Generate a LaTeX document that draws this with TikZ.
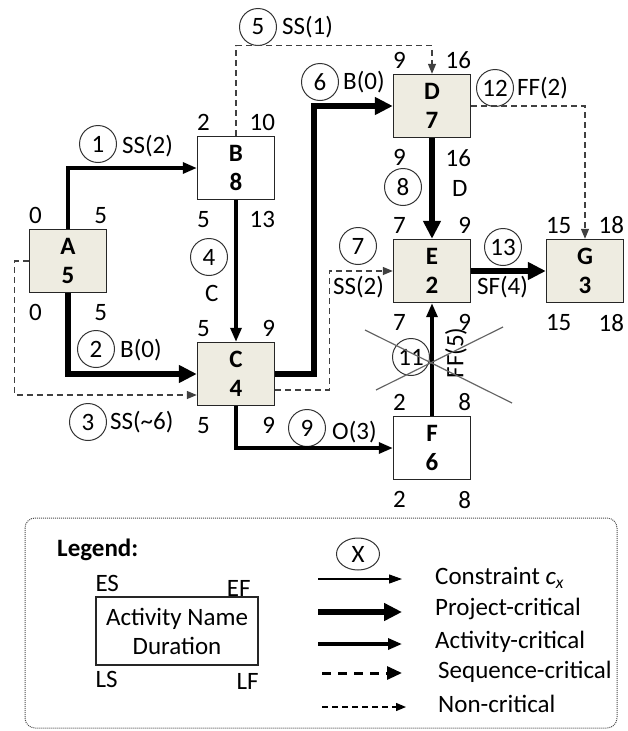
\documentclass[tikz,border=0pt]{standalone}
\usepackage{fontspec}
\setmainfont{Carlito}
\usepackage{tikz}
\usetikzlibrary{arrows.meta,positioning,shapes.geometric}
\definecolor{actfill}{HTML}{EEECE1}

\tikzset{
  activity/.style={draw=black!85, line width=1.4pt, minimum width=77pt, minimum height=63pt,
    inner sep=0pt, align=center},
  tnum/.style={inner sep=0pt},
  cnum/.style={circle, draw=black!80, line width=1pt, minimum size=37pt, inner sep=0pt},
  projcrit/.style={line width=5.5pt, -{Triangle[length=18pt,width=17pt]}},
  actcrit/.style={line width=3.2pt, -{Triangle[length=14pt,width=11pt]}},
  seqcrit/.style={line width=3pt, dash pattern=on 9pt off 7pt, -{Triangle[length=15pt,width=13pt]}},
  constr/.style={line width=1.2pt, -{Triangle[length=13pt,width=9pt]}},
  noncrit/.style={line width=1.3pt, black!75, dash pattern=on 6pt off 4pt, -{Triangle[length=10pt,width=8pt]}},
}

\begin{document}
\begin{tikzpicture}[x=1pt, y=-1pt, every node/.style={font=\fontsize{25}{29}\selectfont}]
  \useasboundingbox (0,0) rectangle (627,731);

  % Activities with ES, EF, LS, LF
  \foreach \n/\x/\y/\d/\es/\ef/\ls/\lf/\f in {A/68/261/5/0/5/0/5/actfill, B/236/168/8/2/10/5/13/white,
      C/236/374/4/5/9/5/9/actfill, D/432/106/7/9/16/9/16/actfill, E/432/271/2/7/9/7/9/actfill,
      F/432/448/6/2/8/2/8/white, G/585/271/3/15/18/15/18/actfill} {
    \node[activity, fill=\f] (\n) at (\x,\y) {\textbf{\n}\\\textbf{\d}};
    \node[tnum, anchor=south west] (\n-es) at ([yshift=5pt]\n.north west) {\es};
    \node[tnum, anchor=south east] (\n-ef) at ([yshift=5pt]\n.north east) {\ef};
    \node[tnum, anchor=north west] (\n-ls) at ([yshift=-11pt]\n.south west) {\ls};
    \node[tnum, anchor=north east] (\n-lf) at ([yshift=-11pt]\n.south east) {\lf};
  }

  % Constraint numbers
  \foreach \i/\x/\y in {1/98/144, 2/96/349, 3/88/422, 4/209/257, 5/258/27, 6/320/82, 7/358/246,
      8/403/187, 9/307/428, 11/411/357, 12/495/88, 13/503/247}
    \node[cnum] (c\i) at (\x,\y) {\i};

  % Constraint types
  \foreach \i/\x/\y/\t in {1/122/146/SS(2), 2/120/350/B(0), 3/110/422/SS(\textasciitilde6), 4/205/293/C,
      5/282/27/SS(1), 6/343/82/B(0), 7/333/287/SS(2), 8/452/188/D, 9/332/432/O(3), 12/517/88/FF(2),
      13/477/287/SF(4)}
    \node[tnum, anchor=west] (t\i) at (\x,\y) {\t};
  \node[tnum, rotate=90] (t11) at (456,353) {FF(5)};

  % Constraints
  \draw[actcrit] (A.north) |- (B.west);
  \draw[projcrit] (A.south) |- (C.west);
  \draw[noncrit] (A.west) -- ++(-14,0) |- ([yshift=-21pt]C.west);
  \draw[actcrit] (B.south) -- (C.north);
  \draw[noncrit] (B.north) -- ++(0,-90) -| (D.north);
  \draw[projcrit] (C.east) -- ++(39,0) |- (D.west);
  \draw[noncrit] ([yshift=-16pt]C.east) -- ++(54,0) |- (E.west);
  \draw[projcrit] (D.south) -- (E.north);
  \draw[actcrit] (C.south) |- (F.west);
  \draw[actcrit] (F.north) -- (E.south);
  \draw[noncrit] (D.east) -| (G.north);
  \draw[projcrit] (E.east) -- (G.west);

  % crossed out constraint 11
  \draw[black!60, line width=1.2pt] (365,330) -- (512,403);
  \draw[black!60, line width=1.2pt] (376,390) -- (503,327);

  % Legend
  \draw[black!70, line width=1pt, dash pattern=on 1pt off 1pt, rounded corners=10pt]
    (25,518) rectangle (617,728);
  \node[tnum, anchor=west] (leg) at (57,550) {\textbf{Legend:}};
  \node[activity, fill=white, minimum width=162pt, minimum height=68pt] (legbox) at (177,631)
    {Activity Name\\Duration};
  \node[tnum, anchor=south west] (leg-es) at ([yshift=4pt]legbox.north west) {ES};
  \node[tnum, anchor=south east] (leg-ef) at ([xshift=-8pt]legbox.north east) {EF};
  \node[tnum, anchor=north west] (leg-ls) at ([yshift=-5pt]legbox.south west) {LS};
  \node[tnum, anchor=north east] (leg-lf) at ([yshift=-8pt]legbox.south east) {LF};

  \node[ellipse, draw=black!80, line width=1pt, minimum width=43pt, minimum height=32pt, inner sep=0pt]
    (cx) at (358,554) {X};
  \foreach \i/\y in {1/579, 2/612, 3/644, 4/673, 5/707} {
    \coordinate (s\i) at (318,\y);
    \coordinate (e\i) at (402,\y);
  }
  \draw[constr] (s1) -- (e1);
  \draw[projcrit] (s2) -- (e2);
  \draw[actcrit] (s3) -- (e3);
  \draw[seqcrit] ([xshift=4pt]s4) -- (e4);
  \draw[noncrit, black] ([xshift=4pt]s5) -- ([xshift=4pt]e5);
  \node[tnum, anchor=west] (lt1) at (435,578) {Constraint \textit{c}\textsubscript{\textit{x}}};
  \node[tnum, anchor=west] (lt2) at (435,609) {Project-critical};
  \node[tnum, anchor=west] (lt3) at (435,642) {Activity-critical};
  \node[tnum, anchor=west] (lt4) at (438,672) {Sequence-critical};
  \node[tnum, anchor=west] (lt5) at (438,704) {Non-critical};
\end{tikzpicture}
\end{document}
